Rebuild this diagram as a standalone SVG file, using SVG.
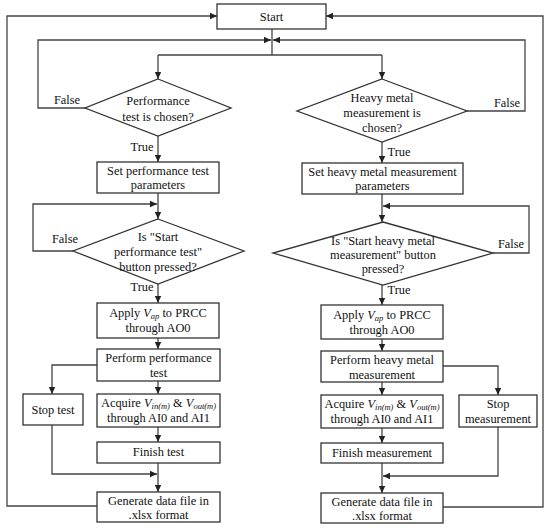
<svg xmlns="http://www.w3.org/2000/svg" width="550" height="528" viewBox="0 0 550 528">
<defs>
<marker id="ah" markerWidth="8" markerHeight="8" refX="7" refY="4" orient="auto" markerUnits="userSpaceOnUse">
<path d="M0,0.8 L7,4 L0,7.2 Z" fill="#222"/>
</marker>
<style>
.b{fill:#fff;stroke:#333;stroke-width:1.3}
.c{fill:none;stroke:#444;stroke-width:1.3}
.a{fill:none;stroke:#444;stroke-width:1.3;marker-end:url(#ah)}
text{font-family:"Liberation Serif","Times New Roman",serif;font-size:12.4px;fill:#111;text-anchor:middle}
.i{font-style:italic}
.s{font-size:8.5px;font-style:italic}
</style>
</defs>
<rect width="550" height="528" fill="#fff"/>
<g id="connectors">
<path class="c" d="M272,29 V55 M158,55 H382"/>
<path class="a" d="M158,55 V79"/>
<path class="a" d="M382,55 V79"/>
<path class="a" d="M85,108 H38 V40 H271"/>
<path class="a" d="M467,111 H525 V40 H273"/>
<path class="a" d="M158,136 V162"/>
<path class="a" d="M382,142 V163"/>
<path class="a" d="M158,193 V219"/>
<path class="a" d="M382,194 V222"/>
<path class="a" d="M73,251 H33 V204 H157"/>
<path class="a" d="M493,253 H529 V206 H383"/>
<path class="a" d="M158,284 V303"/>
<path class="a" d="M382,285 V305"/>
<path class="a" d="M158,338 V349"/>
<path class="a" d="M382,339 V351"/>
<path class="a" d="M158,381 V394"/>
<path class="a" d="M382,382 V395"/>
<path class="a" d="M158,427 V442"/>
<path class="a" d="M382,428 V443"/>
<path class="a" d="M158,463 V492"/>
<path class="a" d="M382,463 V493"/>
<path class="a" d="M97,365 H52 V394"/>
<path class="a" d="M443,366 H498 V395"/>
<path class="a" d="M52,425 V474 H157"/>
<path class="a" d="M498,427 V476 H383"/>
<path class="a" d="M97,506 H7 V16 H217"/>
<path class="a" d="M443,507 H543 V16 H326"/>
<text x="67" y="104">False</text>
<text x="142" y="151">True</text>
<text x="507" y="107">False</text>
<text x="399" y="156">True</text>
<text x="65" y="243">False</text>
<text x="142" y="291">True</text>
<text x="511" y="248">False</text>
<text x="399" y="294">True</text>
</g>
<g id="start"><rect class="b" x="217" y="4" width="109" height="25"/><text x="271.5" y="21">Start</text></g>
<g id="d1"><polygon class="b" points="158,79 231,108 158,136 85,108"/><text x="158" y="105">Performance</text><text x="158" y="121">test is chosen?</text></g>
<g id="d2"><polygon class="b" points="382,79 467,111 382,142 297,111"/><text x="382" y="102">Heavy metal</text><text x="382" y="117">measurement is</text><text x="382" y="132">chosen?</text></g>
<g id="p1"><rect class="b" x="97" y="162" width="122" height="31"/><text x="158" y="175">Set performance test</text><text x="158" y="189">parameters</text></g>
<g id="h1"><rect class="b" x="302" y="163" width="161" height="31"/><text x="382.5" y="176">Set heavy metal measurement</text><text x="382.5" y="190">parameters</text></g>
<g id="d3"><polygon class="b" points="158,219 244,251 158,284 73,251"/><text x="158" y="241">Is "Start</text><text x="158" y="256">performance test"</text><text x="158" y="271">button pressed?</text></g>
<g id="d4"><polygon class="b" points="383,222 493,253 383,285 273,253"/><text x="383" y="245">Is "Start heavy metal</text><text x="383" y="259">measurement" button</text><text x="383" y="273">pressed?</text></g>
<g id="p2"><rect class="b" x="97" y="303" width="122" height="35"/><text x="158" y="317">Apply <tspan class="i">V</tspan><tspan class="s" dy="2">ap</tspan><tspan dy="-2"> to PRCC</tspan></text><text x="158" y="332">through AO0</text></g>
<g id="h2"><rect class="b" x="321" y="305" width="122" height="34"/><text x="382" y="319">Apply <tspan class="i">V</tspan><tspan class="s" dy="2">ap</tspan><tspan dy="-2"> to PRCC</tspan></text><text x="382" y="334">through AO0</text></g>
<g id="p3"><rect class="b" x="97" y="349" width="123" height="32"/><text x="158.5" y="362">Perform performance</text><text x="158.5" y="377">test</text></g>
<g id="h3"><rect class="b" x="321" y="351" width="122" height="31"/><text x="382" y="364">Perform heavy metal</text><text x="382" y="379">measurement</text></g>
<g id="p4"><rect class="b" x="97" y="394" width="123" height="33"/><text x="158.5" y="407">Acquire <tspan class="i">V</tspan><tspan class="s" dy="2">in(m)</tspan><tspan dy="-2"> &amp; </tspan><tspan class="i">V</tspan><tspan class="s" dy="2">out(m)</tspan></text><text x="158.5" y="422">through AI0 and AI1</text></g>
<g id="h4"><rect class="b" x="321" y="395" width="122" height="33"/><text x="382" y="408">Acquire <tspan class="i">V</tspan><tspan class="s" dy="2">in(m)</tspan><tspan dy="-2"> &amp; </tspan><tspan class="i">V</tspan><tspan class="s" dy="2">out(m)</tspan></text><text x="382" y="423">through AI0 and AI1</text></g>
<g id="p5"><rect class="b" x="97" y="442" width="123" height="21"/><text x="158.5" y="456">Finish test</text></g>
<g id="h5"><rect class="b" x="321" y="443" width="122" height="20"/><text x="382" y="457">Finish measurement</text></g>
<g id="p6"><rect class="b" x="97" y="492" width="123" height="30"/><text x="158.5" y="505">Generate data file in</text><text x="158.5" y="519">.xlsx format</text></g>
<g id="h6"><rect class="b" x="321" y="493" width="122" height="30"/><text x="382" y="506">Generate data file in</text><text x="382" y="520">.xlsx format</text></g>
<g id="stop1"><rect class="b" x="23" y="394" width="60" height="31"/><text x="53" y="414">Stop test</text></g>
<g id="stop2"><rect class="b" x="459" y="395" width="78" height="32"/><text x="498" y="408">Stop</text><text x="498" y="423">measurement</text></g>
</svg>
